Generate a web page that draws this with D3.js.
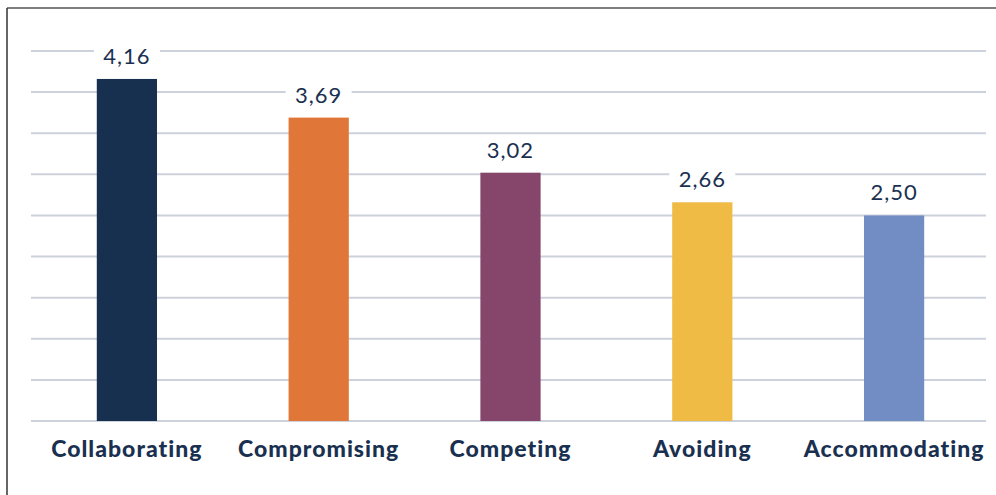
<!DOCTYPE html>
<html>
<head>
<meta charset="utf-8">
<script src="https://cdn.jsdelivr.net/npm/d3@7"></script>
<style>
  body { margin: 0; background: #fff; }
  svg { display: block; }
</style>
</head>
<body>
<svg id="chart"></svg>
<script>
// Chart data
const categories = ["Collaborating", "Compromising", "Competing", "Avoiding", "Accommodating"];
const values = [4.16, 3.69, 3.02, 2.66, 2.50];
const valueLabels = ["4,16", "3,69", "3,02", "2,66", "2,50"];
const barColors = ["#17304f", "#e07638", "#86466b", "#efbb45", "#728cc4"];
const gridValues = [0, 0.5, 1, 1.5, 2, 2.5, 3, 3.5, 4, 4.5];

const width = 996, height = 495;
const margin = { top: 51, right: 6, bottom: 74, left: 31 };
const gridRight = 986;

const svg = d3.select("#chart")
    .attr("width", width)
    .attr("height", height);

// Frame lines (top and left)
svg.append("line")
    .attr("x1", 7).attr("x2", width).attr("y1", 8).attr("y2", 8)
    .attr("stroke", "#555").attr("stroke-width", 1.5);
svg.append("line")
    .attr("x1", 7).attr("x2", 7).attr("y1", 8).attr("y2", height)
    .attr("stroke", "#333").attr("stroke-width", 1.5);

const x = d3.scaleBand()
    .domain(categories)
    .range([margin.left, width - margin.right])
    .paddingInner(0.686)
    .paddingOuter(0.343);

const y = d3.scaleLinear()
    .domain([0, 4.5])
    .range([height - margin.bottom, margin.top]);

// Gridlines
svg.append("g")
    .selectAll("line")
    .data(gridValues)
    .enter()
    .append("line")
    .attr("x1", margin.left)
    .attr("x2", gridRight)
    .attr("y1", d => y(d))
    .attr("y2", d => y(d))
    .attr("stroke", "#cdd1dc")
    .attr("stroke-width", 2);

// Bars
svg.append("g")
    .selectAll("rect")
    .data(values)
    .enter()
    .append("rect")
    .attr("x", (d, i) => x(categories[i]))
    .attr("y", d => y(d))
    .attr("width", x.bandwidth())
    .attr("height", d => y(0) - y(d))
    .attr("fill", (d, i) => barColors[i]);

// Value labels with white backing
const labels = svg.append("g")
    .selectAll("g")
    .data(values)
    .enter()
    .append("g")
    .attr("transform", (d, i) => `translate(${x(categories[i]) + x.bandwidth() / 2},${y(d) - 15})`);

labels.append("rect")
    .attr("x", -33)
    .attr("y", -20)
    .attr("width", 66)
    .attr("height", 24)
    .attr("fill", "#fff");

labels.append("text")
    .attr("text-anchor", "middle")
    .attr("font-family", "Lato, 'Open Sans', sans-serif")
    .attr("font-size", 22)
    .attr("letter-spacing", 1)
    .attr("fill", "#1a3050")
    .text((d, i) => valueLabels[i]);

// Category labels
svg.append("g")
    .selectAll("text")
    .data(categories)
    .enter()
    .append("text")
    .attr("x", d => x(d) + x.bandwidth() / 2)
    .attr("y", 457)
    .attr("text-anchor", "middle")
    .attr("font-family", "Lato, 'Open Sans', sans-serif")
    .attr("font-weight", 900)
    .attr("font-size", 23)
    .attr("letter-spacing", 1)
    .attr("fill", "#1a3050")
    .text(d => d);
</script>
</body>
</html>
